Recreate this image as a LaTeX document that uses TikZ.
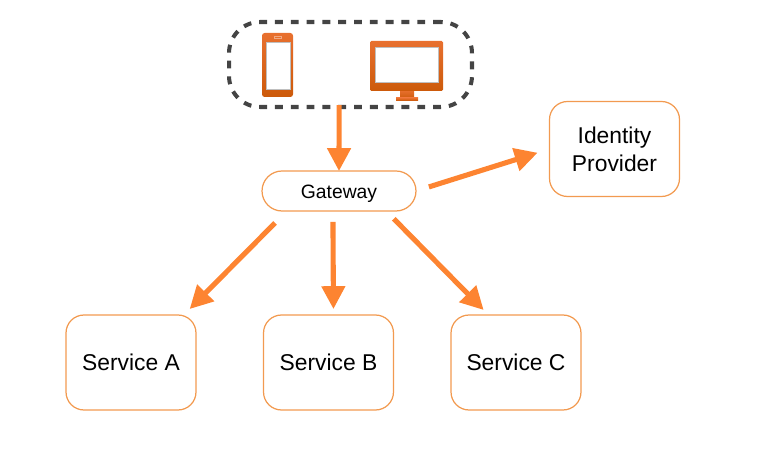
\documentclass[tikz,border=0pt]{standalone}
\usepackage{fontspec}
\setmainfont{Liberation Sans}
\usetikzlibrary{positioning, arrows.meta}

\definecolor{flowcolor}{HTML}{FD8431}
\definecolor{boxcolor}{HTML}{F29A50}
\definecolor{dashcolor}{HTML}{444444}
\definecolor{icontop}{HTML}{E8702F}
\definecolor{iconbottom}{HTML}{CC5A0A}

\tikzset{
 servicebox/.style={draw=boxcolor, line width=0.7pt, rounded corners=0.36cm, minimum width=2.6cm, minimum height=1.9cm, outer sep=0pt, inner sep=0pt, align=center, font=\fontsize{13}{16}\selectfont},
 flow/.style={draw=flowcolor, line width=2.9pt, -{Triangle[length=13pt, width=13pt]}},
 icon/.style={top color=icontop, bottom color=iconbottom, draw=none},
 iconscreen/.style={fill=white, draw=black!25, line width=0.5pt}
}

\begin{document}
\begin{tikzpicture}[x=0.02cm, y=-0.02cm]
 \useasboundingbox (0,0) rectangle (761,455);

 \node[draw=dashcolor, line width=2.3pt, dash pattern=on 4.5pt off 4.5pt, rounded corners=0.62cm, minimum width=4.86cm, minimum height=1.7cm, outer sep=0pt] (devices) at (350.5,64.5) {};

 % phone
 \path[icon, rounded corners=1.5pt] (262,33) rectangle (293,97);
 \path[iconscreen] (266,42) rectangle (290,89);
 \draw[icontop!60!white, line width=0.4pt] (274,36.5) rectangle (281,38.5);
 % monitor
 \path[icon] (400,90) rectangle (414,99);
 \path[icon] (396,98) rectangle (418,100.5);
 \path[icon, rounded corners=0.8pt] (370,41) rectangle (443,91);
 \path[iconscreen] (375,47) rectangle (438,82);

 \node[draw=boxcolor, line width=0.7pt, rounded corners=0.4cm, minimum width=3.08cm, minimum height=0.8cm, outer sep=0pt, inner sep=0pt, text height=9pt, text depth=0pt, font=\fontsize{11}{13}\selectfont] (gateway) at (339,191) {Gateway};
 \node[servicebox] (identity) at (614.5,149) {Identity\\Provider};
 \foreach \x/\name in {131/A, 328.5/B, 516/C} {
  \node[servicebox] (service\name) at (\x,362.5) {Service \name};
 }

 \draw[flow, shorten <=-1pt] (devices.255) -- (gateway.north);
 \draw[flow, shorten <=7.7pt, shorten >=7.1pt] (gateway.east) -- (identity.west);
 \draw[flow, shorten <=9.6pt, shorten >=4.8pt] (gateway.201) -- (serviceA.42);
 \draw[flow, shorten <=6.2pt, shorten >=3.4pt] (gateway.253.3) -- (serviceB.84.6);
 \draw[flow, shorten <=6.2pt, shorten >=4pt] (gateway.-23.5) -- (serviceC.120.5);
\end{tikzpicture}
\end{document}
